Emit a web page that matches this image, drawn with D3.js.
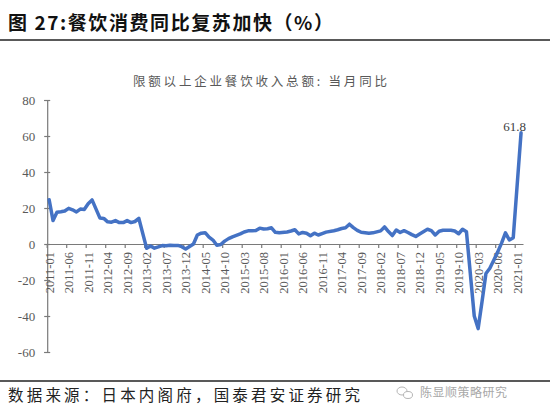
<!DOCTYPE html>
<html>
<head>
<meta charset="utf-8">
<script src="https://cdn.jsdelivr.net/npm/d3@7"></script>
<style>
    html, body { margin: 0; padding: 0; background: #fff; }
    svg { display: block; }
</style>
</head>
<body>
<div id="chart"></div>
<script>
(function() {
    'use strict';

    // Data: 限额以上企业餐饮收入总额 当月同比 (%), Jan values missing for most years
    var years = [2011, 2012, 2013, 2014, 2015, 2016, 2017, 2018, 2019, 2020, 2021];
    var yoy2011 = [24.6, 13.0, 17.6, 17.9, 18.3, 19.8, 19.0, 17.8, 19.4, 19.2, 22.4, 24.5];
    var yoy2012 = [null, 14.5, 14.2, 12.3, 12.1, 13.0, 11.9, 11.9, 13.0, 11.9, 12.5, 14.2];
    var yoy2013 = [null, -2.4, -1.1, -2.3, -1.6, -0.9, -1.0, -0.7, -0.8, -0.8, -1.5, -2.8];
    var yoy2014 = [null, 0.0, 5.0, 6.0, 6.3, 3.8, 2.2, -0.7, -0.3, 1.6, 3.0, 4.0];
    var yoy2015 = [null, 5.6, 6.7, 7.3, 7.3, 7.5, 8.8, 8.3, 8.5, 9.0, 6.5, 6.2];
    var yoy2016 = [null, 6.7, 7.2, 7.9, 5.6, 6.4, 6.0, 4.6, 6.0, 5.0, 5.8, 6.6];
    var yoy2017 = [null, 7.4, 7.9, 8.6, 9.0, 11.0, 9.1, 7.6, 6.5, 6.3, 6.0, 6.2];
    var yoy2018 = [null, 7.3, 9.5, 6.9, 4.7, 7.8, 6.4, 7.4, 6.4, 5.2, 4.2, 5.6];
    var yoy2019 = [null, 8.2, 7.4, 5.0, 7.1, 7.6, 7.7, 7.6, 7.2, 5.7, 8.2, 6.8];
    var yoy2020 = [null, -40.0, -47.0, -32.0, -16.4, -13.5, -9.0, -4.5, 0.5, 6.2, 2.2, 3.5];
    var yoy2021 = [null, 61.8];
    var yTicks = [-60, -40, -20, 0, 20, 40, 60, 80];
    var lastLabel = "61.8";

    var yearly = [yoy2011, yoy2012, yoy2013, yoy2014, yoy2015, yoy2016,
                  yoy2017, yoy2018, yoy2019, yoy2020, yoy2021];

    var data = [];
    yearly.forEach(function(vals, k) {
        vals.forEach(function(v, m) {
            var mm = (m + 1 < 10 ? "0" : "") + (m + 1);
            data.push({ cat: years[k] + "-" + mm, v: v });
        });
    });
    var cats = data.map(function(d) { return d.cat; });
    var labelCats = cats.filter(function(c, i) { return i % 5 === 0; });

    var W = 550, H = 416;
    var serif = "'Liberation Serif', 'Times New Roman', serif";
    var cjk = "'Noto Sans CJK SC', 'Noto Sans', sans-serif";

    var svg = d3.select("#chart").append("svg")
        .attr("width", W)
        .attr("height", H);

    svg.append("rect").attr("width", W).attr("height", H).attr("fill", "#fff");

    // Title block
    svg.append("text")
        .attr("x", 8).attr("y", 30)
        .attr("font-family", cjk)
        .attr("font-size", 19)
        .attr("font-weight", "bold")
        .attr("fill", "#111")
        .attr("textLength", 325)
        .attr("lengthAdjust", "spacing")
        .text("图 27:餐饮消费同比复苏加快（%）");

    svg.append("line")
        .attr("x1", 0).attr("x2", W)
        .attr("y1", 40).attr("y2", 40)
        .attr("stroke", "#222").attr("stroke-width", 1.6);

    svg.append("text")
        .attr("x", 133).attr("y", 86)
        .attr("font-family", cjk)
        .attr("font-size", 12.5)
        .attr("fill", "#595959")
        .attr("textLength", 254)
        .attr("lengthAdjust", "spacing")
        .text("限额以上企业餐饮收入总额: 当月同比");

    // Scales
    var x = d3.scaleBand()
        .domain(cats)
        .range([47.2, 523])
        .padding(0);
    var bw = x.bandwidth();
    var y = d3.scaleLinear()
        .domain([-60, 80])
        .range([352, 100]);

    // Y axis
    var yAxis = svg.append("g")
        .attr("transform", "translate(47.2,0)")
        .call(d3.axisLeft(y).tickValues(yTicks).tickSize(3).tickFormat(function(d) { return String(d); }));
    yAxis.select(".domain").attr("stroke", "#7a7a7a").attr("stroke-width", 1.2);
    yAxis.selectAll(".tick line").attr("x1", -3).attr("x2", 3).attr("stroke", "#7a7a7a").attr("stroke-width", 1.2);
    yAxis.selectAll(".tick text")
        .attr("x", -12)
        .attr("font-family", serif)
        .attr("font-size", 13)
        .attr("fill", "#595959");

    // X axis at zero
    var xAxis = svg.append("g")
        .attr("transform", "translate(0," + y(0) + ")")
        .call(d3.axisBottom(x).tickValues(labelCats).tickSizeInner(4).tickSizeOuter(0));
    xAxis.select(".domain").attr("stroke", "#7a7a7a").attr("stroke-width", 1.2);
    xAxis.selectAll(".tick line")
        .attr("transform", "translate(" + (-bw / 2) + ",0)")
        .attr("stroke", "#7a7a7a").attr("stroke-width", 1.2);
    xAxis.selectAll(".tick text")
        .attr("font-family", serif)
        .attr("font-size", 12.5)
        .attr("fill", "#595959")
        .attr("text-anchor", "end")
        .attr("transform", "rotate(-90)")
        .attr("x", -8)
        .attr("y", 0)
        .attr("dy", "0.35em");

    // Line (gaps bridged like the source chart)
    var shown = data.filter(function(d) { return d.v !== null; });
    var line = d3.line()
        .x(function(d) { return x(d.cat) + bw / 2; })
        .y(function(d) { return y(d.v); });

    svg.append("path")
        .datum(shown)
        .attr("fill", "none")
        .attr("stroke", "#4472C4")
        .attr("stroke-width", 3.5)
        .attr("stroke-linejoin", "round")
        .attr("stroke-linecap", "round")
        .attr("d", line);

    var last = shown[shown.length - 1];
    svg.append("text")
        .attr("x", x(last.cat) + bw / 2 + 5)
        .attr("y", y(last.v) - 2)
        .attr("text-anchor", "end")
        .attr("font-family", serif)
        .attr("font-size", 13)
        .attr("fill", "#404040")
        .text(lastLabel);

    // Footer
    svg.append("line")
        .attr("x1", 0).attr("x2", W)
        .attr("y1", 381).attr("y2", 381)
        .attr("stroke", "#222").attr("stroke-width", 1.6);

    svg.append("text")
        .attr("x", 8).attr("y", 401)
        .attr("font-family", cjk)
        .attr("font-size", 15.5)
        .attr("fill", "#222")
        .attr("textLength", 352)
        .attr("lengthAdjust", "spacing")
        .text("数据来源：日本内阁府，国泰君安证券研究");

    // Watermark with a small chat icon
    var wm = svg.append("g").attr("fill", "none").attr("stroke", "#b5b5b5").attr("stroke-width", 1);
    wm.append("ellipse").attr("cx", 402).attr("cy", 391).attr("rx", 5).attr("ry", 4);
    wm.append("ellipse").attr("cx", 408).attr("cy", 395).attr("rx", 4.5).attr("ry", 3.5).attr("fill", "#fff");
    svg.append("text")
        .attr("x", 420).attr("y", 397)
        .attr("font-family", cjk)
        .attr("font-size", 12)
        .attr("fill", "#a8a8a8")
        .attr("textLength", 87)
        .attr("lengthAdjust", "spacing")
        .text("陈显顺策略研究");

})();
</script>
</body>
</html>
